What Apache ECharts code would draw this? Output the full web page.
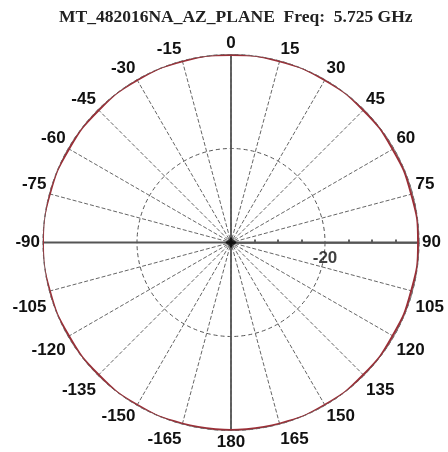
<!DOCTYPE html>
<html><head><meta charset="utf-8">
<script src="https://cdn.jsdelivr.net/npm/echarts@6/dist/echarts.min.js"></script>
<style>html,body{margin:0;padding:0;background:#fff;}#c{width:448px;height:452px;}</style>
</head><body><div id="c"></div>
<script>
const TITLE = 'MT_482016NA_AZ_PLANE  Freq:  5.725 GHz';
// Pattern angles (deg, -180..180) and gain (dB)
const ANGLES = [-180,-165,-150,-135,-120,-105,-90,-75,-60,-45,-30,-15,0,15,30,45,60,75,90,105,120,135,150,165,180];
const GAIN   = [-0.1,-0.1,-0.1,-0.2,-0.2,-0.1,0,-0.1,-0.2,-0.2,-0.1,-0.1,-0.1,-0.1,-0.1,-0.2,-0.3,-0.3,-0.2,-0.3,-0.3,-0.2,-0.1,-0.1,-0.1];
const RADIAL_MIN = -40, RADIAL_MAX = 0, RADIAL_STEP = 20;
const RADIAL_LABELS = [-20];
const ANGLE_STEP = 15;
const CROSS = [0, 90, 180, -90];

function toAxis(d){ let n = ((d % 360) + 360) % 360; if (n < 90) n += 360; return n; }
function angleOf(v){ let d = Math.round(v) % 360; if (d > 180) d -= 360; return d; }
function fmtAngle(v){
  const d = angleOf(v), s = String(d);
  if (d === -15) return '{l2|' + s + '}';
  if (d === -165) return '{l3|' + s + '}';
  if (d === 15) return '{r2|' + s + '}';
  if (d === 165) return '{r3|' + s + '}';
  if (d === 75 || d === -75) return '{b|' + s + '}';
  if (d === 105 || d === -105) return '{t|' + s + '}';
  if (Math.abs(d) === 120 || Math.abs(d) === 135) return '{lo|' + s + '}';
  return '{n|' + s + '}';
}
const F = {fontFamily:'Liberation Sans', fontWeight:'bold', fontSize:17, color:'#111'};
const rich = {
  n: Object.assign({}, F),
  l2: Object.assign({padding:[0,25,0,0]}, F),
  l3: Object.assign({padding:[4,34,0,0]}, F),
  r2: Object.assign({padding:[0,0,0,19]}, F),
  r3: Object.assign({padding:[4,0,0,28]}, F),
  b: Object.assign({padding:[0,0,17,0]}, F),
  t: Object.assign({padding:[31,0,0,0]}, F),
  lo: Object.assign({padding:[4,0,0,0]}, F)
};

const trace = ANGLES.map((a,i)=>[GAIN[i], toAxis(a)]);
const crossV = [[RADIAL_MAX, toAxis(CROSS[0])],[RADIAL_MIN, toAxis(CROSS[0])],[RADIAL_MAX, toAxis(CROSS[2])]];
const crossH = [[RADIAL_MAX, toAxis(CROSS[3])],[RADIAL_MIN, toAxis(CROSS[3])],[RADIAL_MAX, toAxis(CROSS[1])]];

const chart = echarts.init(document.getElementById('c'), null, {renderer:'canvas'});
chart.setOption({
  animation:false,
  backgroundColor:'#fff',
  title:{text:TITLE, left:54, top:3,
    textStyle:{fontFamily:'Liberation Serif', fontSize:17.5, fontWeight:'bold', color:'#222'}},
  polar:{center:[231,242.5], radius:188},
  angleAxis:{type:'value', min:90, max:450, interval:ANGLE_STEP, startAngle:0, clockwise:true,
    axisLine:{show:true, lineStyle:{color:'#777', width:1}},
    axisTick:{show:false},
    axisLabel:{show:true, margin:3, formatter:fmtAngle, rich:rich,
      fontFamily:'Liberation Sans', fontWeight:'bold', fontSize:17, color:'#111'},
    splitLine:{show:true, lineStyle:{color:'#666', width:1, type:[4,2]}}
  },
  radiusAxis:{type:'value', min:RADIAL_MIN, max:RADIAL_MAX, interval:RADIAL_STEP,
    axisLine:{show:true, lineStyle:{color:'#555', width:1.5}},
    axisTick:{show:false},
    minorTick:{show:true, splitNumber:4, length:3, lineStyle:{color:'#333', width:1.5}},
    axisLabel:{show:false},
    splitLine:{show:true, lineStyle:{color:'#555', width:1, type:[4,3]}}
  },
  series:[
    {type:'line', coordinateSystem:'polar', data:crossV, symbol:'none', silent:true,
      lineStyle:{color:'#555', width:1.8}, z:3},
    {type:'line', coordinateSystem:'polar', data:crossH, symbol:'none', silent:true,
      lineStyle:{color:'#555', width:1.8}, z:3},
    {type:'line', coordinateSystem:'polar', data:trace, symbol:'none', smooth:true,
      lineStyle:{color:'#9a2f37', width:2}, z:5},
    {type:'scatter', coordinateSystem:'polar', data:[[RADIAL_MIN, toAxis(0)]], symbol:'diamond',
      symbolSize:11, itemStyle:{color:'#000'}, z:6},
    {type:'scatter', coordinateSystem:'polar', data:RADIAL_LABELS.map(v=>[v, toAxis(90)]),
      symbolSize:0, z:6,
      label:{show:true, position:'bottom', distance:7, formatter:p=>String(p.value[0]),
        fontFamily:'Liberation Sans', fontWeight:'bold', fontSize:17, color:'#111'}}
  ]
});
</script></body></html>
